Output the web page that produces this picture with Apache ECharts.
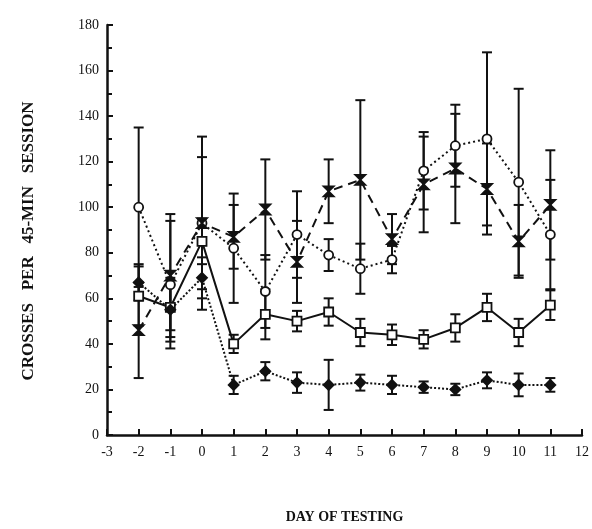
<!DOCTYPE html>
<html>
<head>
<meta charset="utf-8">
<script src="https://cdn.jsdelivr.net/npm/echarts@6/dist/echarts.min.js"></script>
<style>
html,body{margin:0;padding:0;background:#fff;}
#main{width:592px;height:529px;}
</style>
</head>
<body>
<div id="main"></div>
<script>
// days of testing
const days = [-2, -1, 0, 1, 2, 3, 4, 5, 6, 7, 8, 9, 10, 11];
// open circle, dotted
const circleVals = [100, 66, 93, 82, 63, 88, 79, 73, 77, 116, 127, 130, 111, 88];
const circleErr = [35, 28, 38, 24, 16, 19, 7, 11, 6, 17, 18, 38, 41, 24];
// X marker, dashed
const crossVals = [46, 70, 93, 87, 99, 76, 107, 112, 86, 110, 117, 108, 85, 101];
const crossErr = [21, 27, 29, 14, 22, 18, 14, 35, 11, 21, 24, 20, 16, 24];
// open square, solid
const squareVals = [61, 56, 85, 40, 53, 50, 54, 45, 44, 42, 47, 56, 45, 57];
const squareErr = [13, 10, 10, 4, 11, 4.5, 6, 6, 4.5, 4, 6, 6, 6, 6.5];
// filled diamond, fine dots
const diamondVals = [67, 55, 69, 22, 28, 23, 22, 23, 22, 21, 20, 24, 22, 22];
const diamondErr = [8, 14, 9, 4, 4, 4.5, 11, 3.5, 4, 2.5, 2.5, 3.5, 5, 3];

const serif = 'Liberation Serif';
const ink = '#111';

function pts(vals){ return days.map((d,i)=>[d, vals[i]]); }
function bars(vals, err){ return days.map((d,i)=>[d, vals[i]-err[i], vals[i]+err[i]]); }

function errSeries(vals, err){
	return {
		type:'custom',
		z:1,
		silent:true,
		renderItem:function(params, api){
			let x = api.value(0);
			let lo = api.coord([x, api.value(1)]);
			let hi = api.coord([x, api.value(2)]);
			let w = 5;
			let st = {stroke:ink, lineWidth:2};
			return {
				type:'group',
				children:[
					{type:'line', shape:{x1:lo[0],y1:lo[1],x2:hi[0],y2:hi[1]}, style:st},
					{type:'line', shape:{x1:lo[0]-w,y1:lo[1],x2:lo[0]+w,y2:lo[1]}, style:st},
					{type:'line', shape:{x1:hi[0]-w,y1:hi[1],x2:hi[0]+w,y2:hi[1]}, style:st}
				]
			};
		},
		data:bars(vals, err)
	};
}

function lineSeries(vals, symbol, size, dash, fill){
	return {
		type:'line',
		z:3,
		data:pts(vals),
		symbol:symbol,
		symbolSize:size,
		showAllSymbol:true,
		lineStyle:{color:ink, width:2, type:dash},
		itemStyle:{color:fill, borderColor:ink, borderWidth:1.8},
		animation:false
	};
}

let myChart = echarts.init(document.getElementById('main'));
let option = {
	animation:false,
	backgroundColor:'#fff',
	grid:{left:107, right:10, top:25, bottom:84},
	xAxis:{
		type:'value',
		min:-3, max:12, interval:1,
		name:'DAY OF TESTING',
		nameLocation:'middle',
		nameGap:75,
		nameTextStyle:{fontFamily:serif, fontWeight:'bold', fontSize:14, color:ink},
		axisLine:{onZero:false, lineStyle:{color:ink, width:2.5}},
		axisTick:{inside:true, length:6, lineStyle:{color:ink, width:2}},
		axisLabel:{fontFamily:serif, fontSize:14, color:ink, margin:10},
		splitLine:{show:false}
	},
	yAxis:{
		type:'value',
		min:0, max:180, interval:20,
		name:'CROSSES   PER   45-MIN   SESSION',
		nameLocation:'middle',
		nameGap:70,
		nameRotate:90,
		nameTextStyle:{fontFamily:serif, fontWeight:'bold', fontSize:17, color:ink, padding:[0,22,0,0]},
		axisLine:{show:true, onZero:false, lineStyle:{color:ink, width:2.5}},
		axisTick:{show:true, inside:true, length:6, lineStyle:{color:ink, width:2}},
		minorTick:{show:true, splitNumber:2, length:5, lineStyle:{color:ink, width:2}},
		axisLabel:{fontFamily:serif, fontSize:14, color:ink, margin:8},
		splitLine:{show:false}
	},
	series:[
		errSeries(circleVals, circleErr),
		errSeries(crossVals, crossErr),
		errSeries(squareVals, squareErr),
		errSeries(diamondVals, diamondErr),
		lineSeries(circleVals, 'circle', 9, [2,3], '#fff'),
		lineSeries(crossVals, 'path://M0,0 L10,0 L0,10 L10,10 Z', 10, [9,6], ink),
		lineSeries(squareVals, 'rect', 9, 'solid', '#fff'),
		lineSeries(diamondVals, 'diamond', 10, [2,2], ink)
	]
};
myChart.setOption(option);
</script>
</body>
</html>
